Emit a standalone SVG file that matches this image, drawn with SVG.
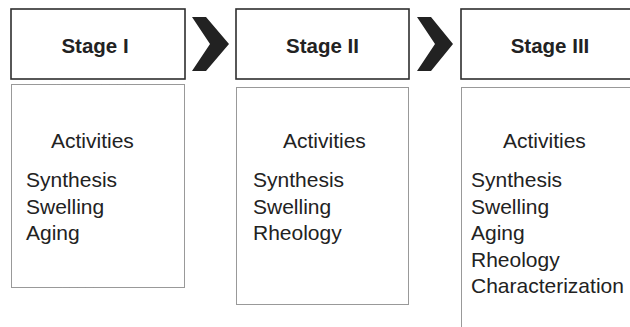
<svg xmlns="http://www.w3.org/2000/svg" width="630" height="327" viewBox="0 0 630 327">
  <style>
    .head { fill: #ffffff; stroke: #2e2e2e; stroke-width: 1.6; }
    .panel { fill: none; stroke: #333333; stroke-width: 1; stroke-dasharray: 1 1; }
    .title { font-family: "Liberation Sans", Arial, sans-serif; font-size: 20.5px; font-weight: bold; fill: #222222; text-anchor: middle; }
    .label { font-family: "Liberation Sans", Arial, sans-serif; font-size: 21px; fill: #222222; }
    .chevron { fill: #222222; }
  </style>
  <rect width="630" height="327" fill="#ffffff"/>

  <g id="stage1">
    <rect class="head" x="11" y="9" width="174" height="70"/>
    <text class="title" x="95" y="53">Stage I</text>
    <rect class="panel" x="11.5" y="84.5" width="173" height="203"/>
    <text class="label" x="51" y="148">Activities</text>
    <text class="label" x="26" y="187">Synthesis</text>
    <text class="label" x="26" y="213.5">Swelling</text>
    <text class="label" x="26" y="240">Aging</text>
  </g>

  <g id="stage2">
    <rect class="head" x="236" y="9" width="173" height="70"/>
    <text class="title" x="322.5" y="53">Stage II</text>
    <rect class="panel" x="236.5" y="87.5" width="172" height="217"/>
    <text class="label" x="283" y="148">Activities</text>
    <text class="label" x="253" y="187">Synthesis</text>
    <text class="label" x="253" y="213.5">Swelling</text>
    <text class="label" x="253" y="240">Rheology</text>
  </g>

  <g id="stage3">
    <rect class="head" x="461" y="9" width="180" height="70"/>
    <text class="title" x="550" y="53">Stage III</text>
    <rect class="panel" x="461.5" y="87.5" width="180" height="250"/>
    <text class="label" x="503" y="148">Activities</text>
    <text class="label" x="471" y="187">Synthesis</text>
    <text class="label" x="471" y="213.5">Swelling</text>
    <text class="label" x="471" y="240">Aging</text>
    <text class="label" x="471" y="266.5">Rheology</text>
    <text class="label" x="471" y="293">Characterization</text>
  </g>

  <g id="connectors">
    <polygon class="chevron" points="192,17 206,17 229,44 206,71 192,71 210,44"/>
    <polygon class="chevron" points="417,17 431,17 453,44 431,71 417,71 435,44"/>
  </g>
</svg>
